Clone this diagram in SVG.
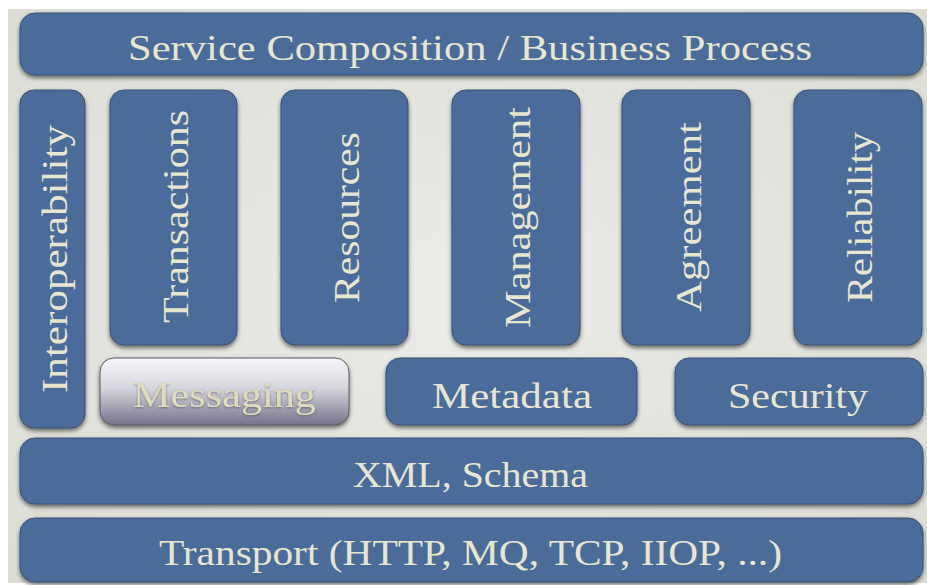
<svg xmlns="http://www.w3.org/2000/svg" width="927" height="585" viewBox="0 0 927 585">
  <defs>
    <filter id="sh" x="-10%" y="-10%" width="120%" height="130%">
      <feDropShadow dx="0" dy="2.5" stdDeviation="2" flood-color="#000" flood-opacity="0.55"/>
    </filter>
    <filter id="tsh" x="-5%" y="-20%" width="110%" height="140%">
      <feDropShadow dx="0" dy="1" stdDeviation="0.8" flood-color="#3a3a48" flood-opacity="0.6"/>
    </filter>
    <linearGradient id="msg" x1="0" y1="0" x2="0" y2="1">
      <stop offset="0" stop-color="#f7f7fa"/>
      <stop offset="0.45" stop-color="#d6d6de"/>
      <stop offset="1" stop-color="#75738a"/>
    </linearGradient>
    <radialGradient id="bg" cx="0.5" cy="0.5" r="0.75">
      <stop offset="0" stop-color="#ecece8"/>
      <stop offset="1" stop-color="#dcdcd5"/>
    </radialGradient>
  </defs>
  <style>
    .box { fill: #4b6c9a; stroke: #3a5070; stroke-width: 1; filter: url(#sh); }
    .mbox { fill: url(#msg); stroke: #5a5a66; stroke-width: 1; filter: url(#sh); }
    .t { font-family: "Liberation Serif", "Times New Roman", serif; font-size: 36px; fill: #e9e6d0; text-anchor: middle; }
    .mt { fill: #e0dbbd; filter: url(#tsh); }
  </style>
  <rect x="0" y="0" width="927" height="585" fill="#ffffff"/>
  <rect x="8" y="9" width="919" height="574" fill="url(#bg)"/>

  <g id="connectors"/>

  <g id="service-composition">
    <rect class="box" x="20" y="13" width="903" height="62" rx="15"/>
    <text class="t" x="470" y="60" textLength="684" lengthAdjust="spacingAndGlyphs">Service Composition / Business Process</text>
  </g>

  <g id="interoperability">
    <rect class="box" x="20" y="90" width="65" height="338" rx="14"/>
    <text class="t" transform="translate(67,259) rotate(-90)" x="0" y="0" textLength="268" lengthAdjust="spacingAndGlyphs">Interoperability</text>
  </g>

  <g id="transactions">
    <rect class="box" x="110" y="90" width="127" height="255" rx="14"/>
    <text class="t" transform="translate(188,216.5) rotate(-90)" x="0" y="0" textLength="213" lengthAdjust="spacingAndGlyphs">Transactions</text>
  </g>

  <g id="resources">
    <rect class="box" x="281" y="90" width="127" height="255" rx="14"/>
    <text class="t" transform="translate(359,217.5) rotate(-90)" x="0" y="0" textLength="171" lengthAdjust="spacingAndGlyphs">Resources</text>
  </g>

  <g id="management">
    <rect class="box" x="452" y="90" width="128" height="255" rx="14"/>
    <text class="t" transform="translate(530,217.5) rotate(-90)" x="0" y="0" textLength="221" lengthAdjust="spacingAndGlyphs">Management</text>
  </g>

  <g id="agreement">
    <rect class="box" x="622" y="90" width="128" height="255" rx="14"/>
    <text class="t" transform="translate(701,217) rotate(-90)" x="0" y="0" textLength="190" lengthAdjust="spacingAndGlyphs">Agreement</text>
  </g>

  <g id="reliability">
    <rect class="box" x="794" y="90" width="128" height="255" rx="14"/>
    <text class="t" transform="translate(872,217.5) rotate(-90)" x="0" y="0" textLength="171" lengthAdjust="spacingAndGlyphs">Reliability</text>
  </g>

  <g id="messaging">
    <rect class="mbox" x="100" y="358" width="249" height="67" rx="14"/>
    <text class="t mt" x="224.5" y="407" textLength="183" lengthAdjust="spacingAndGlyphs">Messaging</text>
  </g>

  <g id="metadata">
    <rect class="box" x="386" y="358" width="251" height="67" rx="14"/>
    <text class="t" x="512" y="408" textLength="160" lengthAdjust="spacingAndGlyphs">Metadata</text>
  </g>

  <g id="security">
    <rect class="box" x="675" y="358" width="248" height="67" rx="14"/>
    <text class="t" x="798" y="408" textLength="140" lengthAdjust="spacingAndGlyphs">Security</text>
  </g>

  <g id="xml-schema">
    <rect class="box" x="20" y="438" width="903" height="66" rx="15"/>
    <text class="t" x="470.5" y="487" textLength="235" lengthAdjust="spacingAndGlyphs">XML, Schema</text>
  </g>

  <g id="transport">
    <rect class="box" x="20" y="518" width="903" height="64" rx="15"/>
    <text class="t" x="470.5" y="565" textLength="623" lengthAdjust="spacingAndGlyphs">Transport (HTTP, MQ, TCP, IIOP, ...)</text>
  </g>
</svg>
